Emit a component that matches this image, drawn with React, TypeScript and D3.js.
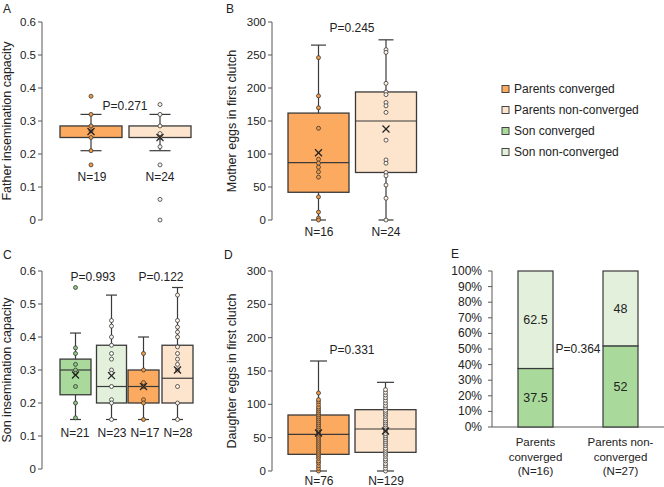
import React from "react";
import * as d3 from "d3";

// ---------- DATA ----------
// stats order: [whiskerLow, q1, median, q3, whiskerHigh, mean]
const fatherConvStats = [0.21, 0.25, 0.25, 0.285, 0.32, 0.268];
const fatherConvPts = [0.375, 0.32, 0.285, 0.27, 0.25, 0.21, 0.167];
const fatherNonStats = [0.21, 0.25, 0.25, 0.285, 0.32, 0.25];
const fatherNonPts = [0.35, 0.32, 0.285, 0.262, 0.25, 0.222, 0.167, 0.0625, 0];

const motherConvStats = [0, 42, 87, 162, 265, 102];
const motherConvPts = [246, 188, 170, 139, 92, 86, 80, 73, 65, 35, 12, 3, 0];
const motherNonStats = [0, 72, 150, 194, 273, 138];
const motherNonPts = [258, 254, 207, 194, 190, 178, 173, 163, 121, 91, 86, 72, 67, 53, 33, 0];

const sonConvStats = [0.15, 0.225, 0.3, 0.333, 0.412, 0.285];
const sonConvPts = [0.55, 0.367, 0.35, 0.317, 0.3, 0.29, 0.25, 0.2, 0.155];
const sonNonStats = [0.15, 0.2, 0.25, 0.375, 0.527, 0.283];
const sonNonPts = [0.45, 0.433, 0.4, 0.375, 0.35, 0.333, 0.3, 0.29, 0.25, 0.21, 0.2, 0.15];
const sonParConvStats = [0.15, 0.2, 0.25, 0.3, 0.4, 0.25];
const sonParConvPts = [0.35, 0.3, 0.262, 0.25, 0.21, 0.2, 0.15];
const sonParNonStats = [0.15, 0.2, 0.275, 0.375, 0.55, 0.3];
const sonParNonPts = [0.527, 0.45, 0.43, 0.415, 0.4, 0.37, 0.35, 0.333, 0.317, 0.3, 0.25, 0.2, 0.15];

const daughterConvStats = [0, 25, 55, 84, 165, 57];
const daughterConvPts = [0, 4, 8, 12, 15, 19, 22, 25, 28, 31, 34, 37, 40, 43, 46, 49, 52, 55, 57, 60, 63, 66, 69, 72, 75, 78, 81, 84, 87, 90, 93, 96, 100, 104, 107, 117];
const daughterNonStats = [0, 28, 63, 92, 133, 60];
const daughterNonPts = [0, 4, 8, 11, 15, 18, 22, 25, 28, 31, 34, 38, 41, 44, 47, 50, 53, 56, 60, 63, 66, 69, 72, 75, 78, 82, 85, 88, 91, 95, 98, 102, 106, 110, 114, 118, 122];

const eCategories = [["Parents", "converged", "(N=16)"], ["Parents non-", "converged", "(N=27)"]];
const eSonConverged = [37.5, 52];
const eSonNonConverged = [62.5, 48];

const legendLabels = ["Parents converged", "Parents non-converged", "Son converged", "Son non-converged"];

const insemTicks = [0, 0.1, 0.2, 0.3, 0.4, 0.5, 0.6];
const eggTicks = [0, 50, 100, 150, 200, 250, 300];
const pctTicks = [0, 10, 20, 30, 40, 50, 60, 70, 80, 90, 100];

// ---------- STYLE ----------
const C = {
  orange: "#FBAA5F",
  orangePt: "#F39A45",
  lightOrange: "#FDE5CD",
  lightOrangePt: "#FFF4E8",
  green: "#A9DA9B",
  greenPt: "#8CC67C",
  lightGreen: "#E3F1DC",
  lightGreenPt: "#F4FAF0",
};
const legendColors = [C.orange, C.lightOrange, C.green, C.lightGreen];
const FONT = "Liberation Sans, Arial, sans-serif";
const TXT = "#222";
const AX = "#595959";
const STROKE = "#3a3a3a";

type BoxDef = { cx: number; w: number; cap: number; stats: number[]; pts: number[]; fill: string; ptFill: string };

function YAxis({ x, y, ticks, fmt }: { x: number; y: d3.ScaleLinear<number, number>; ticks: number[]; fmt: (v: number) => string }) {
  const [r0, r1] = y.range();
  return (
    <g>
      <line x1={x} x2={x} y1={r0} y2={r1} stroke={AX} strokeWidth={1} />
      {ticks.map((t) => (
        <g key={t}>
          <line x1={x - 4} x2={x} y1={y(t)} y2={y(t)} stroke={AX} />
          <text x={x - 6} y={y(t) + 4} textAnchor="end" fontSize={11.5} fill={TXT} fontFamily={FONT}>
            {fmt(t)}
          </text>
        </g>
      ))}
    </g>
  );
}

function Box({ b, y }: { b: BoxDef; y: d3.ScaleLinear<number, number> }) {
  const [lo, q1, med, q3, hi, mean] = b.stats;
  const x0 = b.cx - b.w / 2;
  const m = 3.5;
  return (
    <g>
      <line x1={b.cx} x2={b.cx} y1={y(lo)} y2={y(hi)} stroke={STROKE} strokeWidth={1.2} />
      <line x1={b.cx - b.cap / 2} x2={b.cx + b.cap / 2} y1={y(lo)} y2={y(lo)} stroke={STROKE} strokeWidth={1.2} />
      <line x1={b.cx - b.cap / 2} x2={b.cx + b.cap / 2} y1={y(hi)} y2={y(hi)} stroke={STROKE} strokeWidth={1.2} />
      <rect x={x0} y={y(q3)} width={b.w} height={y(q1) - y(q3)} fill={b.fill} stroke={STROKE} strokeWidth={1.3} />
      <line x1={x0} x2={x0 + b.w} y1={y(med)} y2={y(med)} stroke={STROKE} strokeWidth={1.2} />
      {b.pts.map((p, i) => (
        <circle key={i} cx={b.cx} cy={y(p)} r={2} fill={b.ptFill} stroke={STROKE} strokeWidth={0.8} />
      ))}
      <g stroke="#222" strokeWidth={1.3}>
        <line x1={b.cx - m} x2={b.cx + m} y1={y(mean) - m} y2={y(mean) + m} />
        <line x1={b.cx - m} x2={b.cx + m} y1={y(mean) + m} y2={y(mean) - m} />
      </g>
    </g>
  );
}

function T({ x, y, children, size = 12, anchor = "middle" }: any) {
  return (
    <text x={x} y={y} fontSize={size} textAnchor={anchor} fill={TXT} fontFamily={FONT}>
      {children}
    </text>
  );
}

function YLabel({ x, cy, text }: { x: number; cy: number; text: string }) {
  return (
    <text transform={`translate(${x},${cy}) rotate(-90)`} textAnchor="middle" fontSize={12.5} fill={TXT} fontFamily={FONT}>
      {text}
    </text>
  );
}

export default function App() {
  const fmtDec = (v: number) => (v === 0 ? "0" : d3.format(".1f")(v));
  const fmtInt = (v: number) => String(v);

  // Panel A
  const yA = d3.scaleLinear().domain([0, 0.6]).range([220, 22]);
  const boxesA: BoxDef[] = [
    { cx: 91, w: 62, cap: 21, stats: fatherConvStats, pts: fatherConvPts, fill: C.orange, ptFill: C.orangePt },
    { cx: 160, w: 62, cap: 21, stats: fatherNonStats, pts: fatherNonPts, fill: C.lightOrange, ptFill: C.lightOrangePt },
  ];
  // Panel B
  const yB = d3.scaleLinear().domain([0, 300]).range([220, 22]);
  const boxesB: BoxDef[] = [
    { cx: 318.5, w: 61, cap: 15, stats: motherConvStats, pts: motherConvPts, fill: C.orange, ptFill: C.orangePt },
    { cx: 386, w: 61, cap: 15, stats: motherNonStats, pts: motherNonPts, fill: C.lightOrange, ptFill: C.lightOrangePt },
  ];
  // Panel C
  const yC = d3.scaleLinear().domain([0, 0.6]).range([469, 271]);
  const boxesC: BoxDef[] = [
    { cx: 75.5, w: 31, cap: 11, stats: sonConvStats, pts: sonConvPts, fill: C.green, ptFill: C.greenPt },
    { cx: 111.5, w: 30, cap: 11, stats: sonNonStats, pts: sonNonPts, fill: C.lightGreen, ptFill: C.lightGreenPt },
    { cx: 143.5, w: 31, cap: 11, stats: sonParConvStats, pts: sonParConvPts, fill: C.orange, ptFill: C.orangePt },
    { cx: 177.5, w: 31, cap: 11, stats: sonParNonStats, pts: sonParNonPts, fill: C.lightOrange, ptFill: C.lightOrangePt },
  ];
  // Panel D
  const yD = d3.scaleLinear().domain([0, 300]).range([471, 271]);
  const boxesD: BoxDef[] = [
    { cx: 318.5, w: 61, cap: 17, stats: daughterConvStats, pts: daughterConvPts, fill: C.orange, ptFill: C.orangePt },
    { cx: 385.5, w: 61, cap: 17, stats: daughterNonStats, pts: daughterNonPts, fill: C.lightOrange, ptFill: C.lightOrangePt },
  ];
  // Panel E
  const yE = d3.scaleLinear().domain([0, 100]).range([427, 271]);
  const bwE = 35;
  const eCenters = [535.5, 620.5];

  return (
    <div style={{ position: "absolute", left: 0, top: 0 }}>
      <svg width={664} height={487} style={{ display: "block", background: "#fff" }}>
        {/* Panel letters */}
        <T x={3} y={13} anchor="start">A</T>
        <T x={226} y={13} anchor="start">B</T>
        <T x={3} y={259} anchor="start">C</T>
        <T x={224} y={259} anchor="start">D</T>
        <T x={451} y={258} anchor="start">E</T>

        {/* Panel A */}
        <YAxis x={42} y={yA} ticks={insemTicks} fmt={fmtDec} />
        <YLabel x={11} cy={121} text="Father insemination capacity" />
        {boxesA.map((b, i) => <Box key={i} b={b} y={yA} />)}
        <T x={125} y={110}>P=0.271</T>
        <T x={92} y={181}>N=19</T>
        <T x={160} y={181}>N=24</T>

        {/* Panel B */}
        <YAxis x={272} y={yB} ticks={eggTicks} fmt={fmtInt} />
        <YLabel x={236} cy={121} text="Mother eggs in first clutch" />
        {boxesB.map((b, i) => <Box key={i} b={b} y={yB} />)}
        <T x={352} y={32}>P=0.245</T>
        <T x={319} y={236}>N=16</T>
        <T x={386} y={236}>N=24</T>

        {/* Legend */}
        {legendLabels.map((l, i) => {
          const cy = [89, 110, 131, 152][i];
          return (
            <g key={l}>
              <rect x={502} y={cy - 3.5} width={7} height={7} fill={legendColors[i]} stroke="#444" strokeWidth={1} />
              <T x={514} y={cy + 4} anchor="start">{l}</T>
            </g>
          );
        })}

        {/* Panel C */}
        <YAxis x={42} y={yC} ticks={insemTicks} fmt={fmtDec} />
        <YLabel x={11} cy={370} text="Son insemination capacity" />
        {boxesC.map((b, i) => <Box key={i} b={b} y={yC} />)}
        <T x={93} y={281}>P=0.993</T>
        <T x={161} y={281}>P=0.122</T>
        <T x={75} y={437}>N=21</T>
        <T x={112} y={437}>N=23</T>
        <T x={145} y={437}>N=17</T>
        <T x={178} y={437}>N=28</T>

        {/* Panel D */}
        <YAxis x={272} y={yD} ticks={eggTicks} fmt={fmtInt} />
        <YLabel x={236} cy={371} text="Daughter eggs in first clutch" />
        {boxesD.map((b, i) => <Box key={i} b={b} y={yD} />)}
        <T x={352} y={354}>P=0.331</T>
        <T x={319} y={485}>N=76</T>
        <T x={386} y={485}>N=129</T>

        {/* Panel E */}
        <line x1={492} x2={492} y1={yE(0)} y2={yE(100)} stroke={AX} />
        {pctTicks.map((t) => (
          <g key={t}>
            <line x1={488} x2={492} y1={yE(t)} y2={yE(t)} stroke={AX} />
            <T x={482} y={yE(t) + 4} anchor="end">{t + "%"}</T>
          </g>
        ))}
        <line x1={492} x2={664} y1={yE(0)} y2={yE(0)} stroke={AX} />
        {eSonConverged.map((v, i) => {
          const cx = eCenters[i];
          const top = v + eSonNonConverged[i];
          return (
            <g key={i}>
              <rect x={cx - bwE / 2} y={yE(v)} width={bwE} height={yE(0) - yE(v)} fill={C.green} stroke={STROKE} strokeWidth={1.2} />
              <rect x={cx - bwE / 2} y={yE(top)} width={bwE} height={yE(v) - yE(top)} fill={C.lightGreen} stroke={STROKE} strokeWidth={1.2} />
              <T x={cx} y={yE(v / 2) + 4.5} size={12.5}>{String(v)}</T>
              <T x={cx} y={yE(v + eSonNonConverged[i] / 2) + 4.5} size={12.5}>{String(eSonNonConverged[i])}</T>
              {eCategories[i].map((line, j) => (
                <T key={j} x={cx} y={446 + j * 14.5} size={11.5}>{line}</T>
              ))}
            </g>
          );
        })}
        <rect x={554} y={342} width={48} height={14} fill="#fff" />
        <T x={578} y={353}>P=0.364</T>
      </svg>
    </div>
  );
}
